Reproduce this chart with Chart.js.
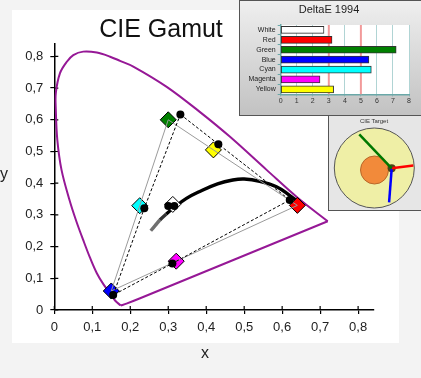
<!DOCTYPE html>
<html><head><meta charset="utf-8">
<script src="https://cdn.jsdelivr.net/npm/chart.js@4.4.0/dist/chart.umd.min.js"></script>
<style>
html,body{margin:0;padding:0;width:421px;height:378px;overflow:hidden;background:#f3f3f3;font-family:"Liberation Sans",Arial,sans-serif;}
.abs{position:absolute;}
</style></head><body>
<div class="abs" style="left:12px;top:10px;width:387px;height:333px;background:#fff"></div>
<canvas id="main" class="abs" width="421" height="378" style="left:0;top:0"></canvas>
<div class="abs" style="left:0;top:16px;width:322px;text-align:center;font-size:25px;line-height:25px;color:#111">CIE Gamut</div>
<div class="abs" style="left:0;top:166px;font-size:16px;line-height:16px;color:#222">y</div>
<div class="abs" style="left:201px;top:345px;font-size:16px;line-height:16px;color:#222">x</div>
<div class="abs" style="left:239px;top:0;width:190px;height:116px;box-sizing:border-box;border:1px solid #555;background:linear-gradient(#efefef,#c2c2c2)"></div>
<canvas id="de" class="abs" width="182" height="116" style="left:239px;top:0"></canvas>
<div class="abs" style="left:279px;top:4px;width:100px;text-align:center;font-size:11px;line-height:11px;color:#222">DeltaE 1994</div>
<div class="abs" style="left:328px;top:115px;width:100px;height:96px;box-sizing:border-box;border:1px solid #555;background:#e6e6e6"></div>
<canvas id="tg" class="abs" width="100" height="96" style="left:328px;top:115px"></canvas>
<div class="abs" style="left:344px;top:118px;width:60px;text-align:center;font-size:6px;line-height:6px;color:#333">CIE Target</div>
<script>
// ---------- data ----------
const colorNames = ['White','Red','Green','Blue','Cyan','Magenta','Yellow'];
const colorFills = ['#ffffff','#ff0000','#008000','#0000ff','#00ffff','#ff00ff','#ffff00'];
const targetX = [0.312, 0.640, 0.300, 0.150, 0.225, 0.321, 0.419];
const targetY = [0.333, 0.330, 0.600, 0.060, 0.329, 0.154, 0.505];
const measuredX = [0.316, 0.620, 0.332, 0.155, 0.237, 0.311, 0.432];
const measuredY = [0.328, 0.347, 0.617, 0.047, 0.321, 0.147, 0.523];
const whitePointX = [0.300];
const whitePointY = [0.328];
const gamutLoop = [2, 6, 1, 5, 3, 4, 2]; // Green, Yellow, Red, Magenta, Blue, Cyan, Green
const locusX = [0.175,0.160,0.147,0.130,0.112,0.094,0.076,0.058,0.040,0.019,0.008,0.004,0.004,0.015,0.033,0.050,0.076,0.112,0.147,0.173,0.208,0.296,0.383,0.462,0.559,0.640,0.720];
const locusY = [0.014,0.030,0.053,0.080,0.116,0.165,0.221,0.280,0.347,0.442,0.536,0.631,0.684,0.747,0.783,0.804,0.815,0.812,0.799,0.786,0.768,0.704,0.625,0.547,0.442,0.355,0.280];
const purpleLineX = [0.720, 0.226, 0.190, 0.175];
const purpleLineY = [0.280, 0.037, 0.020, 0.014];
const planckX = [0.254,0.266,0.278,0.295,0.313,0.348,0.383,0.430,0.470,0.500,0.541,0.585,0.616,0.645];
const planckY = [0.250,0.267,0.284,0.303,0.321,0.352,0.374,0.398,0.410,0.413,0.406,0.389,0.365,0.338];
const axisTicks = [0,0.1,0.2,0.3,0.4,0.5,0.6,0.7,0.8];

const deltaE = [2.7, 3.2, 7.2, 5.5, 5.65, 2.45, 3.3];
const deltaELimits = [3, 5];

const errCenterX = 0.435, errCenterY = -0.0075;
const toleranceX = 0.005, toleranceY = -0.05;
const errX = [-0.375, 0.975, 0.370];
const errY = [0.840, 0.060, -0.860];
const errColors = ['#007800', '#ff0000', '#0000ff'];

// ---------- helpers ----------
Chart.defaults.font.family = '"Liberation Sans", Arial, sans-serif';
const pts = (xs, ys) => xs.map((x, i) => ({x, y: ys[i]}));
const loopPts = (xs, ys) => gamutLoop.map(i => ({x: xs[i], y: ys[i]}));
const fmt = v => v === 0 ? '0' : v.toFixed(1).replace('.', ',');
const fixTicks = s => { s.ticks = axisTicks.map(v => ({value: v})); };

const innerTicks = {
  id: 'innerTicks',
  beforeDatasetsDraw(c) {
    const {ctx, chartArea: a, scales: {x, y}} = c;
    ctx.save(); ctx.strokeStyle = '#000'; ctx.lineWidth = 1.2; ctx.beginPath();
    x.ticks.forEach(t => { const p = x.getPixelForValue(t.value); ctx.moveTo(p, a.bottom); ctx.lineTo(p, a.bottom - 4); });
    y.ticks.forEach(t => { const p = y.getPixelForValue(t.value); ctx.moveTo(a.left, p); ctx.lineTo(a.left + 4, p); });
    ctx.stroke(); ctx.restore();
  }
};

// ---------- main chart ----------
new Chart(document.getElementById('main'), {
  type: 'line',
  data: { datasets: [
    { data: pts(locusX, locusY), borderColor: '#961896', borderWidth: 2, pointRadius: 0, tension: 0.35, fill: false, order: 10 },
    { data: pts(purpleLineX, purpleLineY), borderColor: '#961896', borderWidth: 2, pointRadius: 0, tension: 0.3, fill: false, order: 10 },
    { data: pts(planckX, planckY), borderWidth: 3.4, pointRadius: 0, tension: 0.4, fill: false, order: 6,
      borderColor: '#000', segment: { borderColor: ctx => ctx.p0DataIndex < 2 ? '#707070' : (ctx.p0DataIndex < 3 ? '#333' : '#000') } },
    { data: pts(targetX, targetY), showLine: false, pointStyle: 'rectRot', pointRadius: 8, pointBackgroundColor: colorFills,
      pointBorderColor: '#000', pointBorderWidth: 1, order: 5 },
    { data: loopPts(targetX, targetY), borderColor: '#9a9a9a', borderWidth: 1, pointRadius: 0, tension: 0, fill: false, order: 4 },
    { data: loopPts(measuredX, measuredY), borderColor: '#000', borderWidth: 1, borderDash: [3, 2], pointRadius: 0, tension: 0, fill: false, order: 3 },
    { data: pts(measuredX, measuredY).concat(pts(whitePointX, whitePointY)), showLine: false, pointStyle: 'circle', pointRadius: 4,
      pointBackgroundColor: '#000', pointBorderColor: '#000', pointBorderWidth: 0, order: 1 }
  ]},
  options: {
    responsive: false, animation: false, devicePixelRatio: 1,
    layout: { autoPadding: false, padding: { top: 43.7, right: 47.7, left: 0, bottom: 0 } },
    plugins: { legend: { display: false }, tooltip: { enabled: false } },
    scales: {
      x: { type: 'linear', min: 0, max: 0.84, afterBuildTicks: fixTicks,
        ticks: { callback: fmt, color: '#222', font: { size: 13 }, padding: 6, maxRotation: 0, autoSkip: false },
        grid: { drawOnChartArea: false, drawTicks: true, tickLength: 4, color: '#000', lineWidth: 1.2 },
        border: { display: true, color: '#000', width: 1.5 },
        afterFit(s) { s.height = 68; } },
      y: { type: 'linear', min: 0, max: 0.84, afterBuildTicks: fixTicks,
        ticks: { callback: fmt, color: '#222', font: { size: 13 }, padding: 7, autoSkip: false },
        grid: { drawOnChartArea: false, drawTicks: true, tickLength: 4, color: '#000', lineWidth: 1.2 },
        border: { display: true, color: '#000', width: 1.5 },
        afterFit(s) { s.width = 54.3; } }
    }
  },
  plugins: [innerTicks]
});

// ---------- DeltaE inset ----------
const whiteArea = { id: 'whiteArea', beforeDraw(c) { const a = c.chartArea; c.ctx.save(); c.ctx.fillStyle = '#fff'; c.ctx.fillRect(a.left, a.top, a.right - a.left, a.bottom - a.top); c.ctx.restore(); } };
const limitLines = { id: 'limitLines', beforeDatasetsDraw(c) {
  const {ctx, chartArea: a, scales: {x}} = c;
  ctx.save(); ctx.strokeStyle = '#f29a9a'; ctx.lineWidth = 2;
  deltaELimits.forEach(v => { const p = x.getPixelForValue(v); ctx.beginPath(); ctx.moveTo(p, a.top); ctx.lineTo(p, a.bottom); ctx.stroke(); });
  ctx.restore(); } };

new Chart(document.getElementById('de'), {
  type: 'bar',
  data: { labels: colorNames, datasets: [{ data: deltaE, backgroundColor: colorFills, borderColor: '#333', borderWidth: 1, borderSkipped: false, barThickness: 7 }] },
  options: {
    indexAxis: 'y', responsive: false, animation: false, devicePixelRatio: 1,
    layout: { autoPadding: false, padding: { top: 25, right: 12, left: 0, bottom: 0 } },
    plugins: { legend: { display: false }, tooltip: { enabled: false } },
    scales: {
      x: { min: 0, max: 8, ticks: { stepSize: 1, font: { size: 7 }, color: '#333', padding: 1, autoSkip: false, maxRotation: 0 },
        grid: { color: '#b0d4d4', tickLength: 2, tickColor: '#6aa8a8' },
        border: { color: '#6aa8a8', width: 1.5 },
        afterFit(s) { s.height = 21.7; } },
      y: { ticks: { font: { size: 7 }, color: '#222', padding: 2, autoSkip: false },
        grid: { drawOnChartArea: false, color: '#6aa8a8', tickLength: 3 },
        border: { color: '#6aa8a8', width: 1.5 },
        afterFit(s) { s.width = 41.7; } }
    }
  },
  plugins: [whiteArea, limitLines]
});

// ---------- CIE Target inset ----------
const errDatasets = errX.map((x, i) => ({ type: 'line', data: [{x: errCenterX, y: errCenterY}, {x, y: errY[i]}],
  borderColor: errColors[i], borderWidth: 2.5, pointRadius: 0, fill: false, clip: false, order: 1 }));
new Chart(document.getElementById('tg'), {
  type: 'scatter',
  data: { datasets: [
    { data: [{x: 0, y: 0}], pointRadius: 40, backgroundColor: '#efefa6', borderColor: '#555', borderWidth: 1, clip: false, order: 5 },
    { data: [{x: toleranceX, y: toleranceY}], pointRadius: 14, backgroundColor: '#f28a3a', borderColor: '#b8682a', borderWidth: 1, clip: false, order: 4 },
    { data: [{x: errCenterX, y: errCenterY}], pointRadius: 4, backgroundColor: '#4a4418', borderColor: '#4a4418', borderWidth: 0, clip: false, order: 3 }
  ].concat(errDatasets) },
  options: {
    responsive: false, animation: false, devicePixelRatio: 1,
    layout: { autoPadding: false, padding: 0 },
    plugins: { legend: { display: false }, tooltip: { enabled: false } },
    scales: { x: { type: 'linear', display: false, min: -1.1575, max: 1.3425 }, y: { type: 'linear', display: false, min: -1.075, max: 1.325 } }
  }
});
</script>
</body></html>
